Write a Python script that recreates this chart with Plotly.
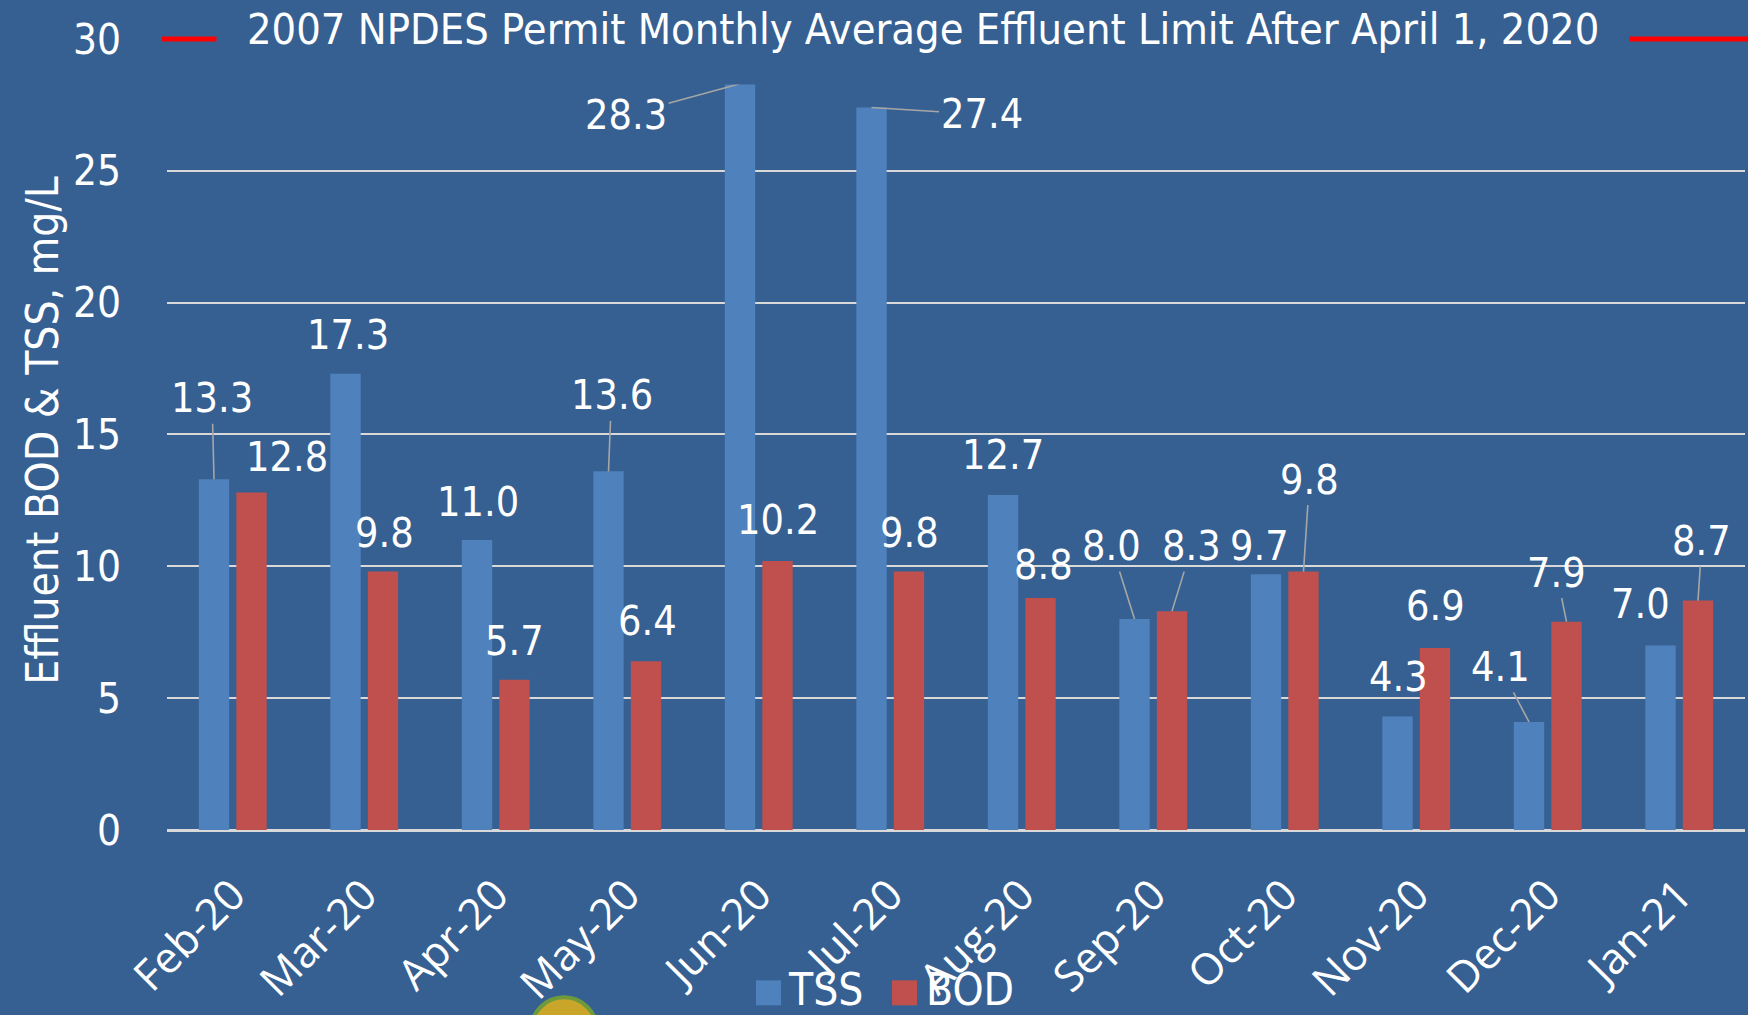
import plotly.graph_objects as go

# ---- data ----
months = ["Feb-20", "Mar-20", "Apr-20", "May-20", "Jun-20", "Jul-20",
          "Aug-20", "Sep-20", "Oct-20", "Nov-20", "Dec-20", "Jan-21"]
tss = [13.3, 17.3, 11.0, 13.6, 28.3, 27.4, 12.7, 8.0, 9.7, 4.3, 4.1, 7.0]
bod = [12.8, 9.8, 5.7, 6.4, 10.2, 9.8, 8.8, 8.3, 9.8, 6.9, 7.9, 8.7]
series_names = ["TSS", "BOD"]
permit_limit = 30
y_ticks = [0, 5, 10, 15, 20, 25, 30]
limit_label = "2007 NPDES Permit Monthly Average Effluent Limit After April 1, 2020"
y_title = "Effluent BOD & TSS, mg/L"

# ---- label placement (pixel offsets of label centre from bar top), leader flags ----
tss_off = [(-2, -81), (2, -39), (1, -38), (3, -76), (-114, 31), (110, 7),
           (0, -40), (-23, -73), (-7, -28), (1, -40), (-29, -55), (-20, -41)]
tss_leader = [1, 0, 0, 1, 1, 1, 0, 1, 0, 0, 1, 0]
bod_off = [(36, -35), (2, -39), (0, -39), (2, -40), (1, -41), (1, -39),
           (3, -33), (20, -65), (6, -92), (1, -42), (-10, -49), (4, -60)]
bod_leader = [0, 0, 0, 0, 0, 0, 0, 1, 1, 0, 1, 1]

BG = "#366092"
COLORS = ["#4F81BD", "#C0504D"]
NARROW = "DejaVu Sans Condensed, Liberation Sans Narrow, sans-serif"
GRID = "#D9D9D9"
LEADER = "#A6A6A6"

W, H = 1748, 1015
PX_PER_UNIT = 26.4
Y_TOP = 30.3            # small headroom so the limit line is not clipped
ML, MR, MB = 167, 3, 184.5
plot_h = Y_TOP * PX_PER_UNIT
MT = H - MB - plot_h
plot_w = W - ML - MR


def px(xp):
    return (xp - ML) / plot_w


def py(yp):
    return (H - MB - yp) / plot_h


fig = go.Figure()
for name, vals, col in zip(series_names, [tss, bod], COLORS):
    fig.add_trace(go.Bar(name=name, x=months, y=vals, showlegend=False,
                         marker=dict(color=col, line=dict(width=0))))

cat_w = plot_w / len(months)
bargap, bargroupgap = 0.43, 0.19
bar_off = (1 - bargap) * cat_w / 4  # centre offset of each bar in the group

annotations = []
for vals, offs, leads, sgn in [(tss, tss_off, tss_leader, -1), (bod, bod_off, bod_leader, 1)]:
    for m, v, (ax, ay), ld in zip(months, vals, offs, leads):
        annotations.append(dict(
            x=m, y=v, xref="x", yref="y", xshift=sgn * bar_off,
            text=f"{v:.1f}", showarrow=True, arrowhead=0, arrowwidth=1.6,
            arrowcolor=LEADER if ld else "rgba(0,0,0,0)", standoff=0,
            ax=ax, ay=ay, font=dict(family=NARROW, size=41, color="white")))

# permit limit label sitting on the limit line
annotations.append(dict(
    x=px(923), xref="paper", y=permit_limit, yref="y", yshift=10,
    text=limit_label, showarrow=False, bgcolor=BG, borderpad=30,
    font=dict(family=NARROW, size=43, color="white"), xanchor="center", yanchor="middle"))

shapes = [
    dict(type="line", xref="paper", yref="y", x0=px(162), x1=px(W),
         y0=permit_limit, y1=permit_limit, line=dict(color="#FF0000", width=5), layer="above"),
    # logo fragment at bottom edge
    dict(type="circle", xref="paper", yref="paper",
         x0=px(531), x1=px(597), y0=py(1064), y1=py(998),
         fillcolor="#C9A62A", line=dict(color="#6E9A3C", width=4)),
]

# legend (large swatches, drawn at bottom centre)
leg_swatch_x = [756, 892]
leg_text_x = [786, 924]
for name, col, sx, tx in zip(series_names, COLORS, leg_swatch_x, leg_text_x):
    shapes.append(dict(type="rect", xref="paper", yref="paper",
                       x0=px(sx), x1=px(sx + 25), y0=py(1006), y1=py(981),
                       fillcolor=col, line=dict(width=0)))
    annotations.append(dict(x=px(tx), y=py(990), xref="paper", yref="paper",
                            text=name, showarrow=False, xanchor="left", yanchor="middle",
                            font=dict(family=NARROW, size=44, color="white")))

fig.update_layout(
    width=W, height=H,
    margin=dict(l=ML, r=MR, t=MT, b=MB, autoexpand=False),
    paper_bgcolor=BG, plot_bgcolor=BG,
    barmode="group", bargap=bargap, bargroupgap=bargroupgap,
    showlegend=False,
    annotations=annotations, shapes=shapes,
    xaxis=dict(type="category", tickangle=-45, showgrid=False, showline=False,
               ticks="", ticklabelstandoff=30,
               tickfont=dict(family="Open Sans, Noto Sans, sans-serif", size=43, color="white")),
    yaxis=dict(range=[0, Y_TOP], tickmode="array", tickvals=y_ticks,
               showgrid=True, gridcolor=GRID, gridwidth=1.5,
               zeroline=True, zerolinecolor=GRID, zerolinewidth=2.5, showline=False,
               ticks="", ticklabelstandoff=45,
               tickfont=dict(family=NARROW, size=42, color="white"),
               title=dict(text=y_title, standoff=0,
                          font=dict(family=NARROW, size=44, color="white"))),
)

fig.write_html("out.html", config={"displayModeBar": False},
               post_script="document.body.style.margin='0';document.body.style.background='#366092';")
